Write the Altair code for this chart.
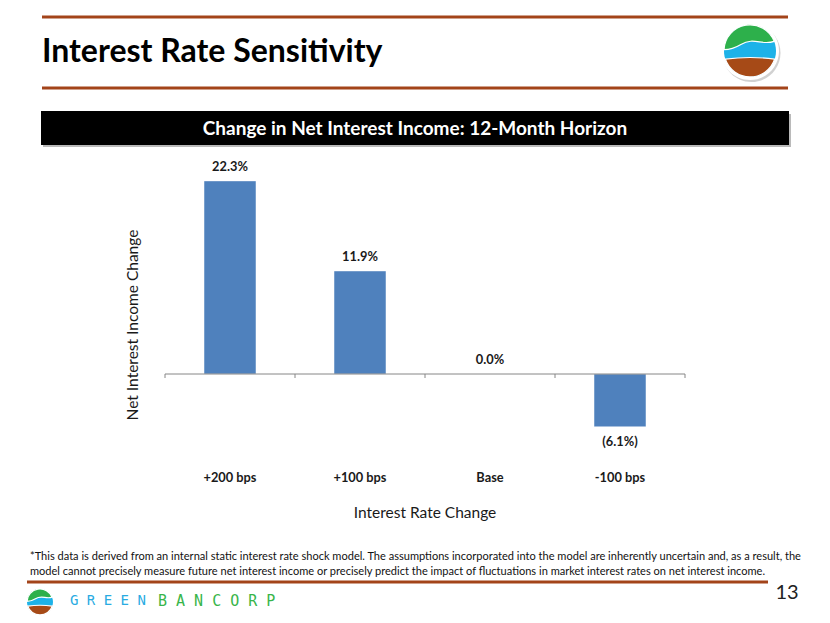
import altair as alt
import pandas as pd

# ---- data ----
categories = ["+200 bps", "+100 bps", "Base", "-100 bps"]
values = [22.3, 11.9, 0.0, -6.1]
value_labels = ["22.3%", "11.9%", "0.0%", "(6.1%)"]

title_text = "Interest Rate Sensitivity"
banner_text = "Change in Net Interest Income: 12-Month Horizon"
x_title = "Interest Rate Change"
y_title = "Net Interest Income Change"
footnote_lines = [
    "*This data is derived from an internal static  interest rate shock model. The assumptions incorporated into the model are inherently uncertain and, as a result, the",
    "model cannot precisely measure future net interest income or precisely predict the impact of fluctuations in market interest rates on net interest income.",
]
page_number = "13"
brand_a = "G R E E N"
brand_b = "B A N C O R P"

df = pd.DataFrame({"cat": categories, "v": values, "lab": value_labels})
one = pd.DataFrame({"k": [0]})

FONT = "Lato"
BROWN = "#A3441A"
BAR = "#4F81BD"
LOGO_GREEN = "#2DB04B"
LOGO_BLUE = "#1DB2E8"
LOGO_BROWN = "#A64A17"

xscale = alt.Scale(domain=categories, range=[157, 677], paddingInner=0.6, paddingOuter=0.3)
yscale = alt.Scale(domain=[-10, 25], range=[452.6, 149.5], nice=False, zero=False)

X = alt.X("cat:N", scale=xscale, axis=None, sort=categories)

CIRCLE = "M -1 0 A 1 1 0 1 0 1 0 A 1 1 0 1 0 -1 0 Z"
GREEN_CAP = "M -1 -0.05 A 1 1 0 0 1 0.93 -0.37 C 0.45 -0.2 0.15 -0.55 -0.35 -0.25 C -0.6 -0.1 -0.8 -0.05 -1 -0.05 Z"
BROWN_BOT = "M -0.95 0.31 C -0.4 0.24 0.4 0.24 0.95 0.31 A 1 1 0 0 1 -0.95 0.31 Z"


def rule(x1, x2, y, color=BROWN, w=3):
    return alt.Chart(one).mark_rule(color=color, strokeWidth=w).encode(
        x=alt.value(x1), x2=alt.value(x2), y=alt.value(y))


def text(t, x, y, size, **kw):
    return alt.Chart(one).mark_text(font=kw.pop("font", FONT), fontSize=size, **kw).encode(
        x=alt.value(x), y=alt.value(y), text=alt.value(t))


def blob(path, x, y, r, color, **kw):
    return alt.Chart(one).mark_point(shape=path, filled=True, fill=color, opacity=kw.pop("opacity", 1), **kw).encode(
        x=alt.value(x), y=alt.value(y), size=alt.value((2 * r) ** 2))


def logo(x, y, r, border=True):
    layers = []
    if border:
        layers += [
            blob(CIRCLE, x + 1.5, y + 2, r + 3, "#9a9a9a", opacity=0.45, strokeWidth=0),
            blob(CIRCLE, x, y, r + 3, "#ffffff", strokeWidth=0),
        ]
    layers += [
        blob(CIRCLE, x, y, r, LOGO_BLUE, strokeWidth=0),
        blob(GREEN_CAP, x, y, r, LOGO_GREEN, stroke="#ffffff", strokeWidth=1.2),
        blob(BROWN_BOT, x, y, r, LOGO_BROWN, stroke="#ffffff", strokeWidth=1.2),
    ]
    return layers


# ---- plot layers ----
bars = alt.Chart(df).mark_bar(color=BAR, stroke="#ffffff", strokeWidth=0.5).encode(
    x=X, y=alt.Y("v:Q", scale=yscale, axis=None), y2=alt.Y2Datum(0))

zero_line = alt.Chart(one).mark_rule(color="#868686", strokeWidth=1).encode(
    y=alt.YDatum(0, type="quantitative", scale=yscale, axis=None),
    x=alt.value(157), x2=alt.value(677))

ticks = alt.Chart(df).mark_rule(color="#868686", strokeWidth=1, xOffset=-39).encode(
    x=alt.X("cat:N", scale=xscale, axis=None, sort=categories, bandPosition=0),
    y=alt.value(366), y2=alt.value(370))
tick_end = alt.Chart(one).mark_rule(color="#868686", strokeWidth=1).encode(
    x=alt.value(677), y=alt.value(366), y2=alt.value(370))

pos_labels = alt.Chart(df).transform_filter("datum.v >= 0").mark_text(
    font=FONT, fontSize=12.8, fontWeight="bold", color="#1a1a1a", baseline="middle", dy=-14).encode(
    x=X, y=alt.Y("v:Q", scale=yscale, axis=None), text="lab:N")
neg_labels = alt.Chart(df).transform_filter("datum.v < 0").mark_text(
    font=FONT, fontSize=12.8, fontWeight="bold", color="#1a1a1a", baseline="middle", dy=15).encode(
    x=X, y=alt.Y("v:Q", scale=yscale, axis=None), text="lab:N")

cat_labels = alt.Chart(df).mark_text(
    font=FONT, fontSize=12.8, fontWeight="bold", color="#1a1a1a", baseline="middle").encode(
    x=X, y=alt.value(470), text="cat:N")

layers = [
    rule(34, 780, 9),
    rule(34, 780, 80),
    text(title_text, 34, 54, 32, fontWeight="bold", align="left", baseline="alphabetic", color="#000000"),
    *logo(742, 43, 26),
    alt.Chart(one).mark_rect(color="#8c8c8c", opacity=0.6).encode(
        x=alt.value(35), x2=alt.value(783), y=alt.value(106), y2=alt.value(139)),
    alt.Chart(one).mark_rect(color="#000000").encode(
        x=alt.value(33), x2=alt.value(781), y=alt.value(103), y2=alt.value(137)),
    text(banner_text, 407, 121, 19, fontWeight="bold", align="center", baseline="middle", color="#ffffff"),
    bars, zero_line, ticks, tick_end, pos_labels, neg_labels, cat_labels,
    text(x_title, 417, 505, 15.5, align="center", baseline="middle", color="#1a1a1a"),
    text(y_title, 125, 317, 15.5, align="center", baseline="middle", angle=270, color="#1a1a1a"),
    text(footnote_lines[0], 22, 549, 11.05, align="left", baseline="middle", color="#111111"),
    text(footnote_lines[1], 22, 564, 11.05, align="left", baseline="middle", color="#111111"),
    rule(19, 760, 574),
    text(page_number, 779, 585, 20, align="center", baseline="middle", color="#222222"),
    *logo(32, 594, 13, border=False),
    text(brand_a, 62, 593, 14, font="DejaVu Sans Mono", align="left", baseline="middle", color="#29ABE2"),
    text(brand_b, 150, 593, 15, font="DejaVu Sans Mono", align="left", baseline="middle", color="#39B54A"),
]

chart = alt.layer(*layers).properties(
    width=814, height=607, padding=0, autosize=alt.AutoSizeParams(type="none"),
    background="#ffffff",
).configure_view(stroke=None)

chart.save("out.html", embed_options={"renderer": "svg", "actions": False})
